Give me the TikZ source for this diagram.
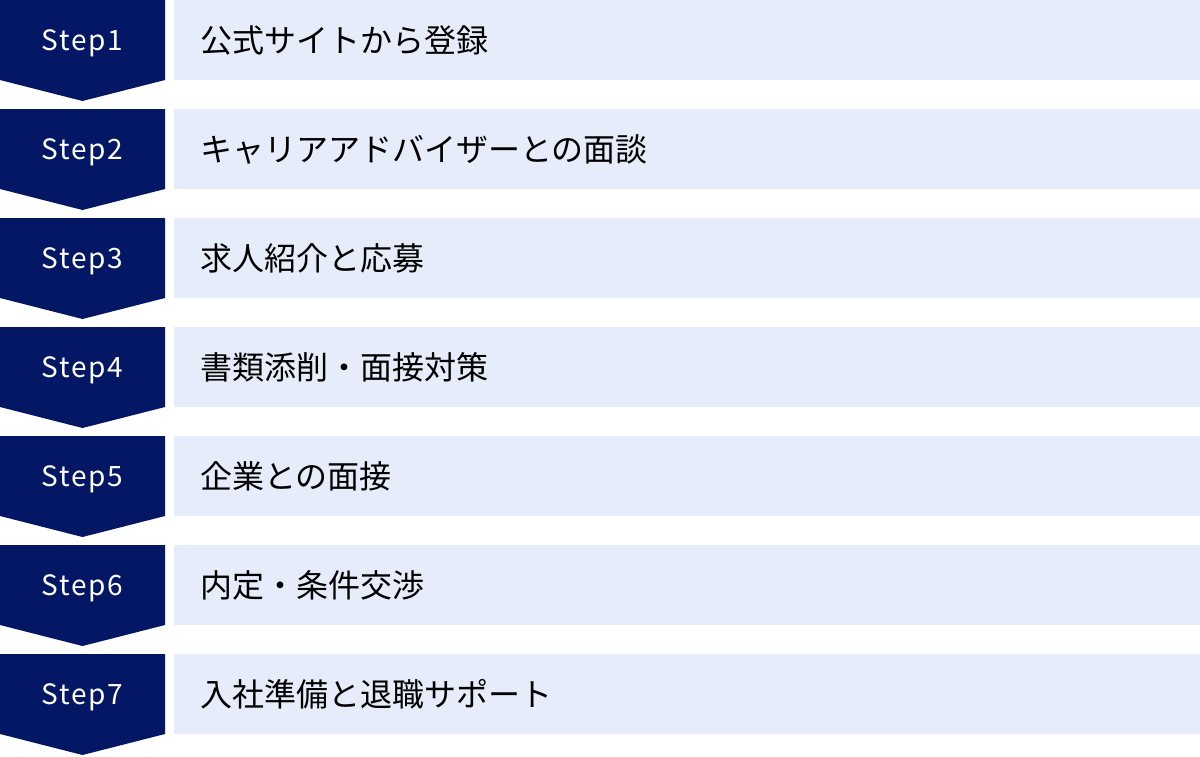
\documentclass[tikz,border=0pt]{standalone}
\usepackage{fontspec}
\newfontfamily\jpfont{Noto Sans CJK JP}
\newfontfamily\stepfont[LetterSpace=6]{Noto Sans CJK JP}
\definecolor{stepnavy}{HTML}{031764}
\definecolor{rowblue}{HTML}{E6ECFA}

\begin{document}
\begin{tikzpicture}[x=1pt, y=-1pt,
    badge/.style={fill=stepnavy},
    band/.style={fill=rowblue},
    steplabel/.style={text=white, font=\stepfont\fontsize{28}{32}\selectfont, inner sep=0pt},
    itemtext/.style={anchor=west, text=black, font=\jpfont\fontsize{32}{38}\selectfont, inner sep=0pt}]
      \useasboundingbox (0, 0) rectangle (1200, 756);
      % step 1
      \fill[badge] (0, 0) -- (165, 0) -- (165, 80) -- (82.5, 101) -- (0, 80) -- cycle;
      \fill[band] (174, 0) rectangle (1200, 80);
      \node[steplabel] (s1) at (82.5, 43) {Step1};
      \node[itemtext] (t1) at (200, 40) {公式サイトから登録};
      % step 2
      \fill[badge] (0, 109) -- (165, 109) -- (165, 189) -- (82.5, 210) -- (0, 189) -- cycle;
      \fill[band] (174, 109) rectangle (1200, 189);
      \node[steplabel] (s2) at (82.5, 152) {Step2};
      \node[itemtext] (t2) at (200, 149) {キャリアアドバイザーとの面談};
      % step 3
      \fill[badge] (0, 218) -- (165, 218) -- (165, 298) -- (82.5, 319) -- (0, 298) -- cycle;
      \fill[band] (174, 218) rectangle (1200, 298);
      \node[steplabel] (s3) at (82.5, 261) {Step3};
      \node[itemtext] (t3) at (200, 258) {求人紹介と応募};
      % step 4
      \fill[badge] (0, 327) -- (165, 327) -- (165, 407) -- (82.5, 428) -- (0, 407) -- cycle;
      \fill[band] (174, 327) rectangle (1200, 407);
      \node[steplabel] (s4) at (82.5, 370) {Step4};
      \node[itemtext] (t4) at (200, 367) {書類添削・面接対策};
      % step 5
      \fill[badge] (0, 436) -- (165, 436) -- (165, 516) -- (82.5, 537) -- (0, 516) -- cycle;
      \fill[band] (174, 436) rectangle (1200, 516);
      \node[steplabel] (s5) at (82.5, 479) {Step5};
      \node[itemtext] (t5) at (200, 476) {企業との面接};
      % step 6
      \fill[badge] (0, 545) -- (165, 545) -- (165, 625) -- (82.5, 646) -- (0, 625) -- cycle;
      \fill[band] (174, 545) rectangle (1200, 625);
      \node[steplabel] (s6) at (82.5, 588) {Step6};
      \node[itemtext] (t6) at (200, 585) {内定・条件交渉};
      % step 7
      \fill[badge] (0, 654) -- (165, 654) -- (165, 734) -- (82.5, 755) -- (0, 734) -- cycle;
      \fill[band] (174, 654) rectangle (1200, 734);
      \node[steplabel] (s7) at (82.5, 697) {Step7};
      \node[itemtext] (t7) at (200, 694) {入社準備と退職サポート};
    \end{tikzpicture}
\end{document}
